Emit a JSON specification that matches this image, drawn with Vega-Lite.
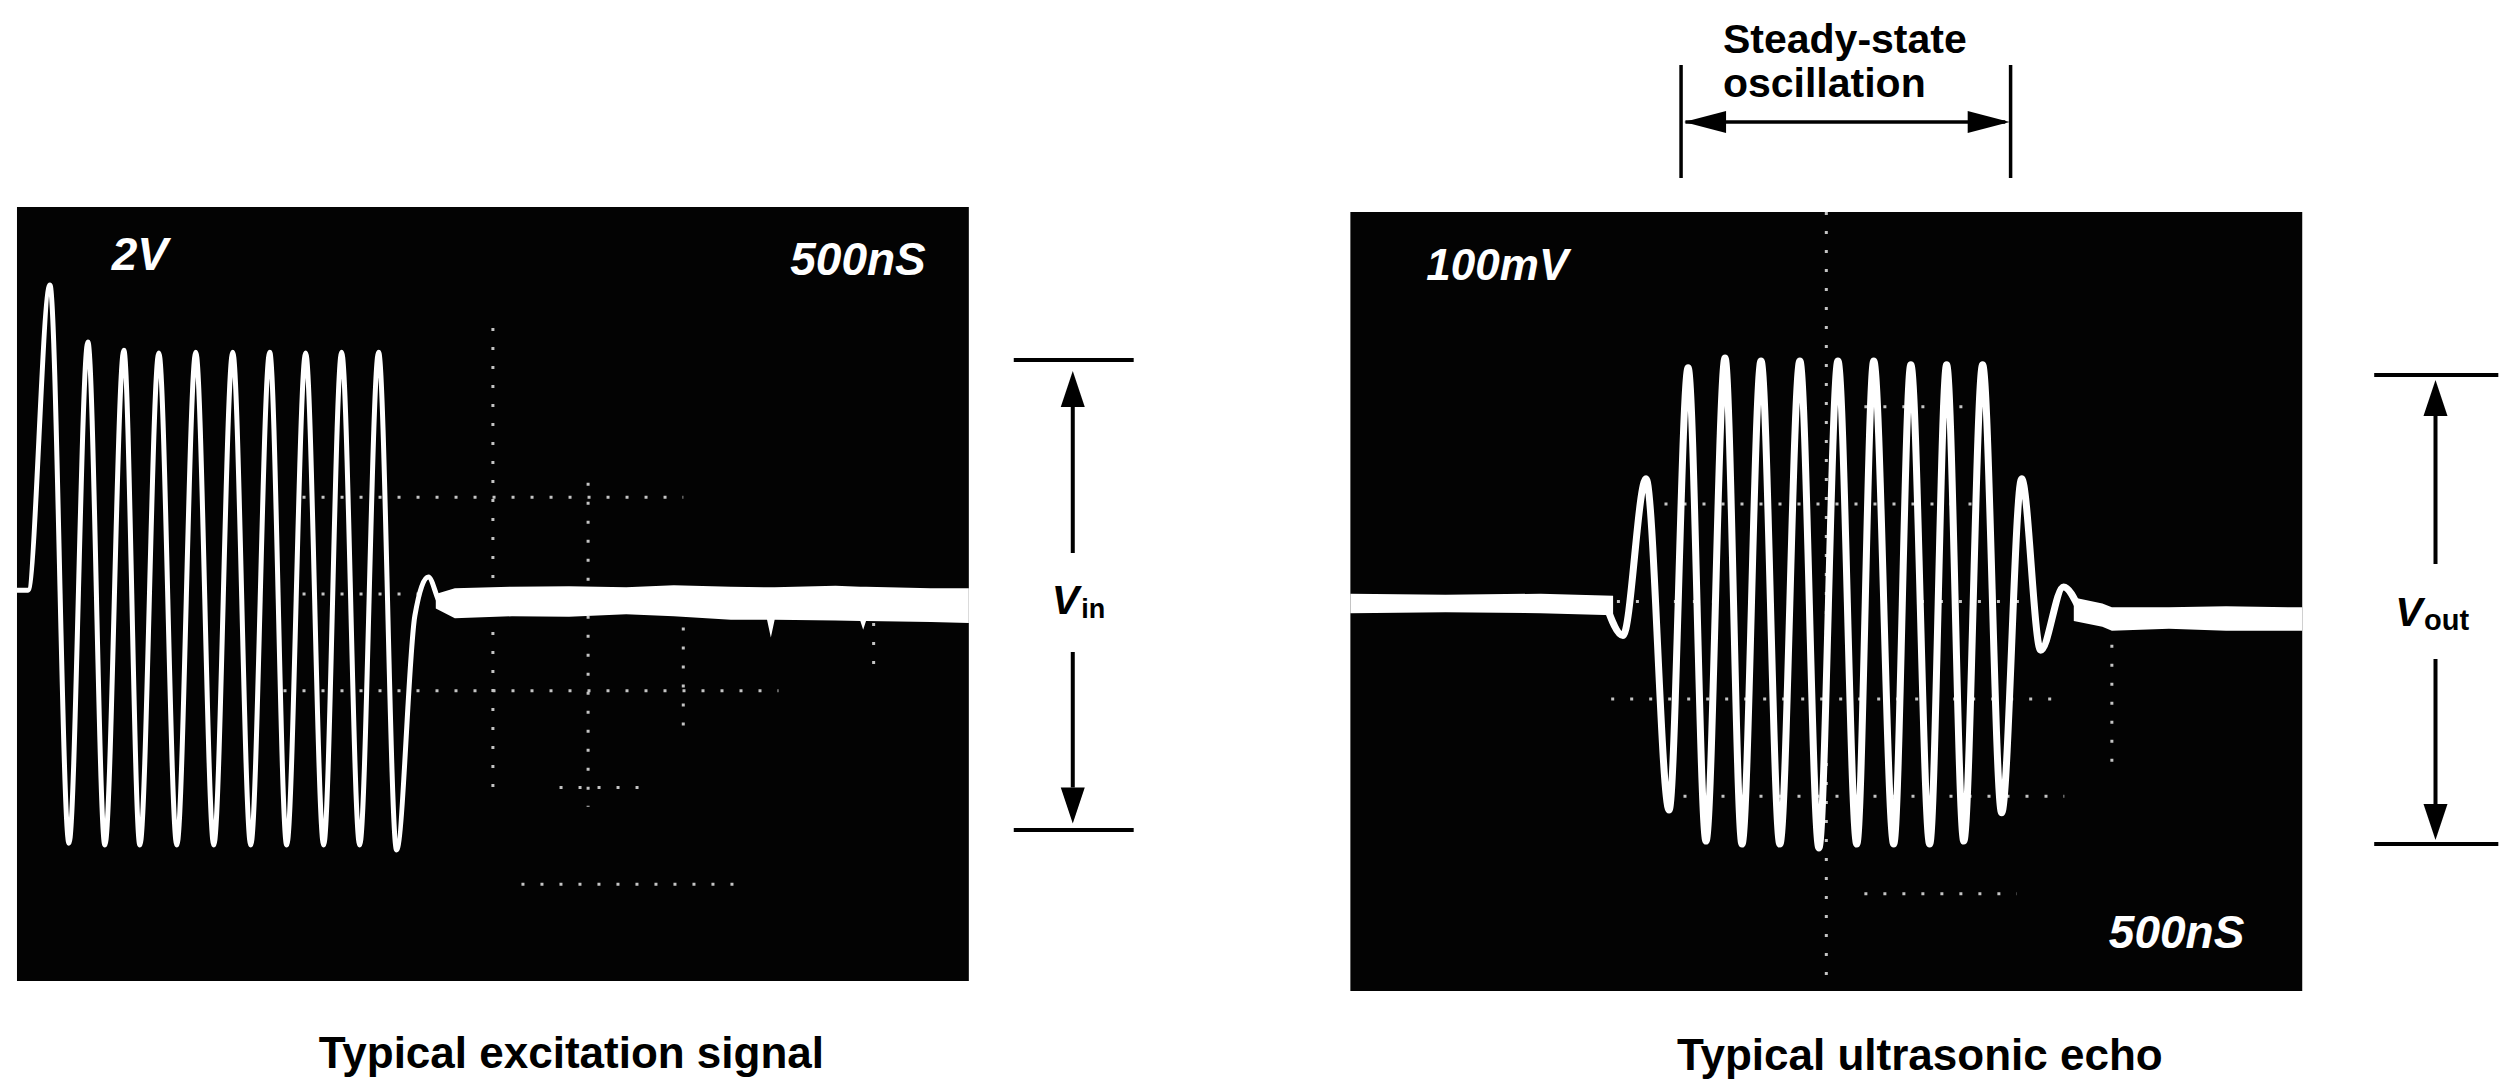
{
  "$schema": "https://vega.github.io/schema/vega-lite/v6.json",
  "width": 2501,
  "height": 1090,
  "autosize": {"type": "fit", "contains": "padding"},
  "padding": 0,
  "background": "#ffffff",
  "config": {"view": {"stroke": null}, "axis": {"disable": true}},
  "datasets": {
    "left_screen": [{"t": 0, "t2": 5, "v": -8, "v2": 8}],
    "left_grid": [
      {"t": 2.5, "t2": 2.5, "v": 5.5, "v2": -4.0},
      {"t": 3.0, "t2": 3.0, "v": 2.3, "v2": -4.4},
      {"t": 3.5, "t2": 3.5, "v": -0.3, "v2": -2.9},
      {"t": 4.5, "t2": 4.5, "v": -0.6, "v2": -1.6},
      {"t": 1.5, "t2": 3.5, "v": 2, "v2": 2},
      {"t": 1.4, "t2": 4.0, "v": -2, "v2": -2},
      {"t": 2.85, "t2": 3.3, "v": -4, "v2": -4},
      {"t": 2.65, "t2": 3.8, "v": -6, "v2": -6},
      {"t": 1.5, "t2": 2.2, "v": 0, "v2": 0}
    ],
    "left_band": [
      {"t": 2.2, "top": 0.0, "bottom": -0.3},
      {"t": 2.3, "top": 0.12, "bottom": -0.5},
      {"t": 2.6, "top": 0.15, "bottom": -0.46},
      {"t": 2.9, "top": 0.16, "bottom": -0.47},
      {"t": 3.2, "top": 0.14, "bottom": -0.42},
      {"t": 3.45, "top": 0.18, "bottom": -0.46},
      {"t": 3.75, "top": 0.15, "bottom": -0.53},
      {"t": 3.94, "top": 0.14, "bottom": -0.53},
      {"t": 3.96, "top": 0.14, "bottom": -0.9},
      {"t": 3.98, "top": 0.14, "bottom": -0.53},
      {"t": 4.3, "top": 0.17, "bottom": -0.55},
      {"t": 4.43, "top": 0.15, "bottom": -0.56},
      {"t": 4.445, "top": 0.15, "bottom": -0.74},
      {"t": 4.46, "top": 0.15, "bottom": -0.56},
      {"t": 4.8, "top": 0.12, "bottom": -0.58},
      {"t": 5.0, "top": 0.12, "bottom": -0.6}
    ],
    "left_wave": [
      {"t": 0, "v": 0.08}, {"t": 0.058, "v": 0.08}, {"t": 0.173, "v": 6.39},
      {"t": 0.273, "v": -5.15}, {"t": 0.3725, "v": 5.21}, {"t": 0.4617, "v": -5.19},
      {"t": 0.5614, "v": 5.04}, {"t": 0.6454, "v": -5.19}, {"t": 0.7451, "v": 4.98},
      {"t": 0.8395, "v": -5.19}, {"t": 0.9392, "v": 5.0}, {"t": 1.0337, "v": -5.19},
      {"t": 1.1334, "v": 5.0}, {"t": 1.2278, "v": -5.19}, {"t": 1.3275, "v": 5.0},
      {"t": 1.4167, "v": -5.19}, {"t": 1.5164, "v": 4.98}, {"t": 1.6108, "v": -5.19},
      {"t": 1.7053, "v": 5.0}, {"t": 1.8, "v": -5.19}, {"t": 1.8994, "v": 5.0},
      {"t": 1.9939, "v": -5.29}, {"t": 2.09, "v": -0.45}, {"t": 2.161, "v": 0.35},
      {"t": 2.23, "v": -0.2}, {"t": 2.32, "v": -0.15}
    ],
    "left_labels_l": [{"t": 0.498, "v": 6.7, "label": "2V"}],
    "left_labels_r": [{"t": 4.774, "v": 6.59, "label": "500nS"}],
    "vin_lines": [
      {"t": 5.236, "t2": 5.866, "v": 4.837, "v2": 4.837},
      {"t": 5.236, "t2": 5.866, "v": -4.879, "v2": -4.879},
      {"t": 5.546, "t2": 5.546, "v": 0.848, "v2": 3.9},
      {"t": 5.546, "t2": 5.546, "v": -1.199, "v2": -4.0}
    ],
    "vin_up": [{"t": 5.546, "v": 4.238}],
    "vin_down": [{"t": 5.546, "v": -4.372}],
    "vin_V": [{"t": 5.435, "v": -0.413, "label": "V"}],
    "vin_sub": [{"t": 5.59, "v": -0.496, "label": "in"}],
    "left_caption": [{"t": 2.912, "v": -9.8, "label": "Typical excitation signal"}],

    "right_screen": [{"t": 0, "t2": 5, "v": -400, "v2": 400}],
    "right_grid": [
      {"t": 2.5, "t2": 2.5, "v": 400, "v2": -400},
      {"t": 4.0, "t2": 4.0, "v": -25, "v2": -170},
      {"t": 1.65, "t2": 3.35, "v": 100, "v2": 100},
      {"t": 1.37, "t2": 3.75, "v": -100, "v2": -100},
      {"t": 2.7, "t2": 3.27, "v": 200, "v2": 200},
      {"t": 1.65, "t2": 3.75, "v": -200, "v2": -200},
      {"t": 2.7, "t2": 3.5, "v": -300, "v2": -300},
      {"t": 1.4, "t2": 3.6, "v": 0, "v2": 0}
    ],
    "right_band": [
      {"seg": "a", "t": 0, "top": 8, "bottom": -12},
      {"seg": "a", "t": 0.5, "top": 7, "bottom": -11},
      {"seg": "a", "t": 1.0, "top": 8, "bottom": -12},
      {"seg": "a", "t": 1.38, "top": 6, "bottom": -14},
      {"seg": "b", "t": 3.8, "top": 4, "bottom": -20},
      {"seg": "b", "t": 3.95, "top": -2, "bottom": -26},
      {"seg": "b", "t": 4.0, "top": -6, "bottom": -30},
      {"seg": "b", "t": 4.3, "top": -6, "bottom": -28},
      {"seg": "b", "t": 4.6, "top": -5, "bottom": -30},
      {"seg": "b", "t": 5.0, "top": -6, "bottom": -30}
    ],
    "right_wave": [
      {"t": 1.34, "v": -2}, {"t": 1.432, "v": -35}, {"t": 1.553, "v": 126},
      {"t": 1.674, "v": -214}, {"t": 1.774, "v": 240}, {"t": 1.868, "v": -246},
      {"t": 1.968, "v": 250}, {"t": 2.057, "v": -249}, {"t": 2.157, "v": 247},
      {"t": 2.256, "v": -249}, {"t": 2.361, "v": 247}, {"t": 2.461, "v": -253},
      {"t": 2.561, "v": 247}, {"t": 2.66, "v": -249}, {"t": 2.749, "v": 247},
      {"t": 2.854, "v": -249}, {"t": 2.944, "v": 243}, {"t": 3.043, "v": -249},
      {"t": 3.132, "v": 243}, {"t": 3.222, "v": -246}, {"t": 3.321, "v": 243},
      {"t": 3.421, "v": -217}, {"t": 3.526, "v": 126}, {"t": 3.626, "v": -50},
      {"t": 3.746, "v": 15}, {"t": 3.83, "v": -8}
    ],
    "right_labels_l": [{"t": 0.399, "v": 330, "label": "100mV"}],
    "right_labels_r": [{"t": 4.696, "v": -356, "label": "500nS"}],
    "vout_lines": [
      {"t": 5.378, "t2": 6.03, "v": 232.5, "v2": 232.5},
      {"t": 5.378, "t2": 6.03, "v": -249, "v2": -249},
      {"t": 5.70, "t2": 5.70, "v": 38.5, "v2": 192},
      {"t": 5.70, "t2": 5.70, "v": -59, "v2": -211}
    ],
    "vout_up": [{"t": 5.70, "v": 208.9}],
    "vout_down": [{"t": 5.70, "v": -226.4}],
    "vout_V": [{"t": 5.488, "v": -25.2, "label": "V"}],
    "vout_sub": [{"t": 5.64, "v": -29.3, "label": "out"}],
    "steady_lines": [
      {"t": 1.737, "t2": 1.737, "v": 434.8, "v2": 550.8},
      {"t": 3.468, "t2": 3.468, "v": 434.8, "v2": 550.8},
      {"t": 1.76, "t2": 3.44, "v": 492.3, "v2": 492.3}
    ],
    "steady_left": [{"t": 1.863, "v": 492.3}],
    "steady_right": [{"t": 3.353, "v": 492.3}],
    "steady_text": [
      {"t": 1.957, "v": 563.1, "label": "Steady-state"},
      {"t": 1.957, "v": 517.9, "label": "oscillation"}
    ],
    "right_caption": [{"t": 2.991, "v": -480.5, "label": "Typical ultrasonic echo"}]
  },
  "layer": [
    {
      "layer": [
        {
          "data": {"name": "left_screen"},
          "mark": {"type": "rect", "color": "#030303"},
          "encoding": {
            "x": {"field": "t", "type": "quantitative", "scale": {"domain": [-0.0892, 13.0326], "nice": false, "zero": false}, "axis": null},
            "x2": {"field": "t2"},
            "y": {"field": "v", "type": "quantitative", "scale": {"domain": [-10.2532, 12.2791], "nice": false, "zero": false}, "axis": null},
            "y2": {"field": "v2"}
          }
        },
        {
          "data": {"name": "left_grid"},
          "mark": {"type": "rule", "color": "#c4c4c4", "strokeWidth": 3, "strokeDash": [3, 16]},
          "encoding": {
            "x": {"field": "t", "type": "quantitative", "scale": {"domain": [-0.0892, 13.0326], "nice": false, "zero": false}, "axis": null},
            "x2": {"field": "t2"},
            "y": {"field": "v", "type": "quantitative", "scale": {"domain": [-10.2532, 12.2791], "nice": false, "zero": false}, "axis": null},
            "y2": {"field": "v2"}
          }
        },
        {
          "data": {"name": "left_band"},
          "mark": {"type": "area", "color": "#ffffff", "opacity": 1},
          "encoding": {
            "x": {"field": "t", "type": "quantitative", "scale": {"domain": [-0.0892, 13.0326], "nice": false, "zero": false}, "axis": null},
            "y": {"field": "top", "type": "quantitative", "scale": {"domain": [-10.2532, 12.2791], "nice": false, "zero": false}, "axis": null},
            "y2": {"field": "bottom"}
          }
        },
        {
          "data": {"name": "left_wave"},
          "mark": {"type": "line", "color": "#ffffff", "strokeWidth": 5, "interpolate": "monotone"},
          "encoding": {
            "x": {"field": "t", "type": "quantitative", "scale": {"domain": [-0.0892, 13.0326], "nice": false, "zero": false}, "axis": null},
            "y": {"field": "v", "type": "quantitative", "scale": {"domain": [-10.2532, 12.2791], "nice": false, "zero": false}, "axis": null}
          }
        },
        {
          "data": {"name": "left_labels_l"},
          "mark": {"type": "text", "color": "#ffffff", "font": "Liberation Sans", "fontStyle": "italic", "fontWeight": "bold", "fontSize": 46, "align": "left", "baseline": "alphabetic"},
          "encoding": {
            "x": {"field": "t", "type": "quantitative", "scale": {"domain": [-0.0892, 13.0326], "nice": false, "zero": false}, "axis": null},
            "y": {"field": "v", "type": "quantitative", "scale": {"domain": [-10.2532, 12.2791], "nice": false, "zero": false}, "axis": null},
            "text": {"field": "label"}
          }
        },
        {
          "data": {"name": "left_labels_r"},
          "mark": {"type": "text", "color": "#ffffff", "font": "Liberation Sans", "fontStyle": "italic", "fontWeight": "bold", "fontSize": 46, "align": "right", "baseline": "alphabetic"},
          "encoding": {
            "x": {"field": "t", "type": "quantitative", "scale": {"domain": [-0.0892, 13.0326], "nice": false, "zero": false}, "axis": null},
            "y": {"field": "v", "type": "quantitative", "scale": {"domain": [-10.2532, 12.2791], "nice": false, "zero": false}, "axis": null},
            "text": {"field": "label"}
          }
        },
        {
          "data": {"name": "vin_lines"},
          "mark": {"type": "rule", "color": "#000000", "strokeWidth": 4},
          "encoding": {
            "x": {"field": "t", "type": "quantitative", "scale": {"domain": [-0.0892, 13.0326], "nice": false, "zero": false}, "axis": null},
            "x2": {"field": "t2"},
            "y": {"field": "v", "type": "quantitative", "scale": {"domain": [-10.2532, 12.2791], "nice": false, "zero": false}, "axis": null},
            "y2": {"field": "v2"}
          }
        },
        {
          "data": {"name": "vin_up"},
          "mark": {"type": "point", "shape": "M0,-1L-0.667,1L0.667,1Z", "size": 1296, "filled": true, "color": "#000000", "opacity": 1},
          "encoding": {
            "x": {"field": "t", "type": "quantitative", "scale": {"domain": [-0.0892, 13.0326], "nice": false, "zero": false}, "axis": null},
            "y": {"field": "v", "type": "quantitative", "scale": {"domain": [-10.2532, 12.2791], "nice": false, "zero": false}, "axis": null}
          }
        },
        {
          "data": {"name": "vin_down"},
          "mark": {"type": "point", "shape": "M0,1L-0.667,-1L0.667,-1Z", "size": 1296, "filled": true, "color": "#000000", "opacity": 1},
          "encoding": {
            "x": {"field": "t", "type": "quantitative", "scale": {"domain": [-0.0892, 13.0326], "nice": false, "zero": false}, "axis": null},
            "y": {"field": "v", "type": "quantitative", "scale": {"domain": [-10.2532, 12.2791], "nice": false, "zero": false}, "axis": null}
          }
        },
        {
          "data": {"name": "vin_V"},
          "mark": {"type": "text", "color": "#000000", "font": "Liberation Sans", "fontStyle": "italic", "fontWeight": "bold", "fontSize": 41, "align": "left", "baseline": "alphabetic"},
          "encoding": {
            "x": {"field": "t", "type": "quantitative", "scale": {"domain": [-0.0892, 13.0326], "nice": false, "zero": false}, "axis": null},
            "y": {"field": "v", "type": "quantitative", "scale": {"domain": [-10.2532, 12.2791], "nice": false, "zero": false}, "axis": null},
            "text": {"field": "label"}
          }
        },
        {
          "data": {"name": "vin_sub"},
          "mark": {"type": "text", "color": "#000000", "font": "Liberation Sans", "fontWeight": "bold", "fontSize": 27, "align": "left", "baseline": "alphabetic"},
          "encoding": {
            "x": {"field": "t", "type": "quantitative", "scale": {"domain": [-0.0892, 13.0326], "nice": false, "zero": false}, "axis": null},
            "y": {"field": "v", "type": "quantitative", "scale": {"domain": [-10.2532, 12.2791], "nice": false, "zero": false}, "axis": null},
            "text": {"field": "label"}
          }
        },
        {
          "data": {"name": "left_caption"},
          "mark": {"type": "text", "color": "#000000", "font": "Liberation Sans", "fontWeight": "bold", "fontSize": 44, "align": "center", "baseline": "alphabetic"},
          "encoding": {
            "x": {"field": "t", "type": "quantitative", "scale": {"domain": [-0.0892, 13.0326], "nice": false, "zero": false}, "axis": null},
            "y": {"field": "v", "type": "quantitative", "scale": {"domain": [-10.2532, 12.2791], "nice": false, "zero": false}, "axis": null},
            "text": {"field": "label"}
          }
        }
      ]
    },
    {
      "layer": [
        {
          "data": {"name": "right_screen"},
          "mark": {"type": "rect", "color": "#030303"},
          "encoding": {
            "x": {"field": "t", "type": "quantitative", "scale": {"domain": [-7.0934, 6.0283], "nice": false, "zero": false}, "axis": null},
            "x2": {"field": "t2"},
            "y": {"field": "v", "type": "quantitative", "scale": {"domain": [-501.54, 617.56], "nice": false, "zero": false}, "axis": null},
            "y2": {"field": "v2"}
          }
        },
        {
          "data": {"name": "right_grid"},
          "mark": {"type": "rule", "color": "#c4c4c4", "strokeWidth": 3, "strokeDash": [3, 16]},
          "encoding": {
            "x": {"field": "t", "type": "quantitative", "scale": {"domain": [-7.0934, 6.0283], "nice": false, "zero": false}, "axis": null},
            "x2": {"field": "t2"},
            "y": {"field": "v", "type": "quantitative", "scale": {"domain": [-501.54, 617.56], "nice": false, "zero": false}, "axis": null},
            "y2": {"field": "v2"}
          }
        },
        {
          "data": {"name": "right_band"},
          "mark": {"type": "area", "color": "#ffffff", "opacity": 1},
          "encoding": {
            "x": {"field": "t", "type": "quantitative", "scale": {"domain": [-7.0934, 6.0283], "nice": false, "zero": false}, "axis": null},
            "y": {"field": "top", "type": "quantitative", "scale": {"domain": [-501.54, 617.56], "nice": false, "zero": false}, "axis": null},
            "y2": {"field": "bottom"},
            "detail": {"field": "seg"}
          }
        },
        {
          "data": {"name": "right_wave"},
          "mark": {"type": "line", "color": "#ffffff", "strokeWidth": 7, "interpolate": "monotone"},
          "encoding": {
            "x": {"field": "t", "type": "quantitative", "scale": {"domain": [-7.0934, 6.0283], "nice": false, "zero": false}, "axis": null},
            "y": {"field": "v", "type": "quantitative", "scale": {"domain": [-501.54, 617.56], "nice": false, "zero": false}, "axis": null}
          }
        },
        {
          "data": {"name": "right_labels_l"},
          "mark": {"type": "text", "color": "#ffffff", "font": "Liberation Sans", "fontStyle": "italic", "fontWeight": "bold", "fontSize": 44, "align": "left", "baseline": "alphabetic"},
          "encoding": {
            "x": {"field": "t", "type": "quantitative", "scale": {"domain": [-7.0934, 6.0283], "nice": false, "zero": false}, "axis": null},
            "y": {"field": "v", "type": "quantitative", "scale": {"domain": [-501.54, 617.56], "nice": false, "zero": false}, "axis": null},
            "text": {"field": "label"}
          }
        },
        {
          "data": {"name": "right_labels_r"},
          "mark": {"type": "text", "color": "#ffffff", "font": "Liberation Sans", "fontStyle": "italic", "fontWeight": "bold", "fontSize": 46, "align": "right", "baseline": "alphabetic"},
          "encoding": {
            "x": {"field": "t", "type": "quantitative", "scale": {"domain": [-7.0934, 6.0283], "nice": false, "zero": false}, "axis": null},
            "y": {"field": "v", "type": "quantitative", "scale": {"domain": [-501.54, 617.56], "nice": false, "zero": false}, "axis": null},
            "text": {"field": "label"}
          }
        },
        {
          "data": {"name": "vout_lines"},
          "mark": {"type": "rule", "color": "#000000", "strokeWidth": 4},
          "encoding": {
            "x": {"field": "t", "type": "quantitative", "scale": {"domain": [-7.0934, 6.0283], "nice": false, "zero": false}, "axis": null},
            "x2": {"field": "t2"},
            "y": {"field": "v", "type": "quantitative", "scale": {"domain": [-501.54, 617.56], "nice": false, "zero": false}, "axis": null},
            "y2": {"field": "v2"}
          }
        },
        {
          "data": {"name": "vout_up"},
          "mark": {"type": "point", "shape": "M0,-1L-0.667,1L0.667,1Z", "size": 1296, "filled": true, "color": "#000000", "opacity": 1},
          "encoding": {
            "x": {"field": "t", "type": "quantitative", "scale": {"domain": [-7.0934, 6.0283], "nice": false, "zero": false}, "axis": null},
            "y": {"field": "v", "type": "quantitative", "scale": {"domain": [-501.54, 617.56], "nice": false, "zero": false}, "axis": null}
          }
        },
        {
          "data": {"name": "vout_down"},
          "mark": {"type": "point", "shape": "M0,1L-0.667,-1L0.667,-1Z", "size": 1296, "filled": true, "color": "#000000", "opacity": 1},
          "encoding": {
            "x": {"field": "t", "type": "quantitative", "scale": {"domain": [-7.0934, 6.0283], "nice": false, "zero": false}, "axis": null},
            "y": {"field": "v", "type": "quantitative", "scale": {"domain": [-501.54, 617.56], "nice": false, "zero": false}, "axis": null}
          }
        },
        {
          "data": {"name": "vout_V"},
          "mark": {"type": "text", "color": "#000000", "font": "Liberation Sans", "fontStyle": "italic", "fontWeight": "bold", "fontSize": 41, "align": "left", "baseline": "alphabetic"},
          "encoding": {
            "x": {"field": "t", "type": "quantitative", "scale": {"domain": [-7.0934, 6.0283], "nice": false, "zero": false}, "axis": null},
            "y": {"field": "v", "type": "quantitative", "scale": {"domain": [-501.54, 617.56], "nice": false, "zero": false}, "axis": null},
            "text": {"field": "label"}
          }
        },
        {
          "data": {"name": "vout_sub"},
          "mark": {"type": "text", "color": "#000000", "font": "Liberation Sans", "fontWeight": "bold", "fontSize": 29, "align": "left", "baseline": "alphabetic"},
          "encoding": {
            "x": {"field": "t", "type": "quantitative", "scale": {"domain": [-7.0934, 6.0283], "nice": false, "zero": false}, "axis": null},
            "y": {"field": "v", "type": "quantitative", "scale": {"domain": [-501.54, 617.56], "nice": false, "zero": false}, "axis": null},
            "text": {"field": "label"}
          }
        },
        {
          "data": {"name": "steady_lines"},
          "mark": {"type": "rule", "color": "#000000", "strokeWidth": 3.5},
          "encoding": {
            "x": {"field": "t", "type": "quantitative", "scale": {"domain": [-7.0934, 6.0283], "nice": false, "zero": false}, "axis": null},
            "x2": {"field": "t2"},
            "y": {"field": "v", "type": "quantitative", "scale": {"domain": [-501.54, 617.56], "nice": false, "zero": false}, "axis": null},
            "y2": {"field": "v2"}
          }
        },
        {
          "data": {"name": "steady_left"},
          "mark": {"type": "point", "shape": "M-1,0L1,-0.524L1,0.524Z", "size": 1764, "filled": true, "color": "#000000", "opacity": 1},
          "encoding": {
            "x": {"field": "t", "type": "quantitative", "scale": {"domain": [-7.0934, 6.0283], "nice": false, "zero": false}, "axis": null},
            "y": {"field": "v", "type": "quantitative", "scale": {"domain": [-501.54, 617.56], "nice": false, "zero": false}, "axis": null}
          }
        },
        {
          "data": {"name": "steady_right"},
          "mark": {"type": "point", "shape": "M1,0L-1,-0.524L-1,0.524Z", "size": 1764, "filled": true, "color": "#000000", "opacity": 1},
          "encoding": {
            "x": {"field": "t", "type": "quantitative", "scale": {"domain": [-7.0934, 6.0283], "nice": false, "zero": false}, "axis": null},
            "y": {"field": "v", "type": "quantitative", "scale": {"domain": [-501.54, 617.56], "nice": false, "zero": false}, "axis": null}
          }
        },
        {
          "data": {"name": "steady_text"},
          "mark": {"type": "text", "color": "#000000", "font": "Liberation Sans", "fontWeight": "bold", "fontSize": 41, "align": "left", "baseline": "alphabetic"},
          "encoding": {
            "x": {"field": "t", "type": "quantitative", "scale": {"domain": [-7.0934, 6.0283], "nice": false, "zero": false}, "axis": null},
            "y": {"field": "v", "type": "quantitative", "scale": {"domain": [-501.54, 617.56], "nice": false, "zero": false}, "axis": null},
            "text": {"field": "label"}
          }
        },
        {
          "data": {"name": "right_caption"},
          "mark": {"type": "text", "color": "#000000", "font": "Liberation Sans", "fontWeight": "bold", "fontSize": 44, "align": "center", "baseline": "alphabetic"},
          "encoding": {
            "x": {"field": "t", "type": "quantitative", "scale": {"domain": [-7.0934, 6.0283], "nice": false, "zero": false}, "axis": null},
            "y": {"field": "v", "type": "quantitative", "scale": {"domain": [-501.54, 617.56], "nice": false, "zero": false}, "axis": null},
            "text": {"field": "label"}
          }
        }
      ]
    }
  ],
  "resolve": {"scale": {"x": "independent", "y": "independent"}}
}
